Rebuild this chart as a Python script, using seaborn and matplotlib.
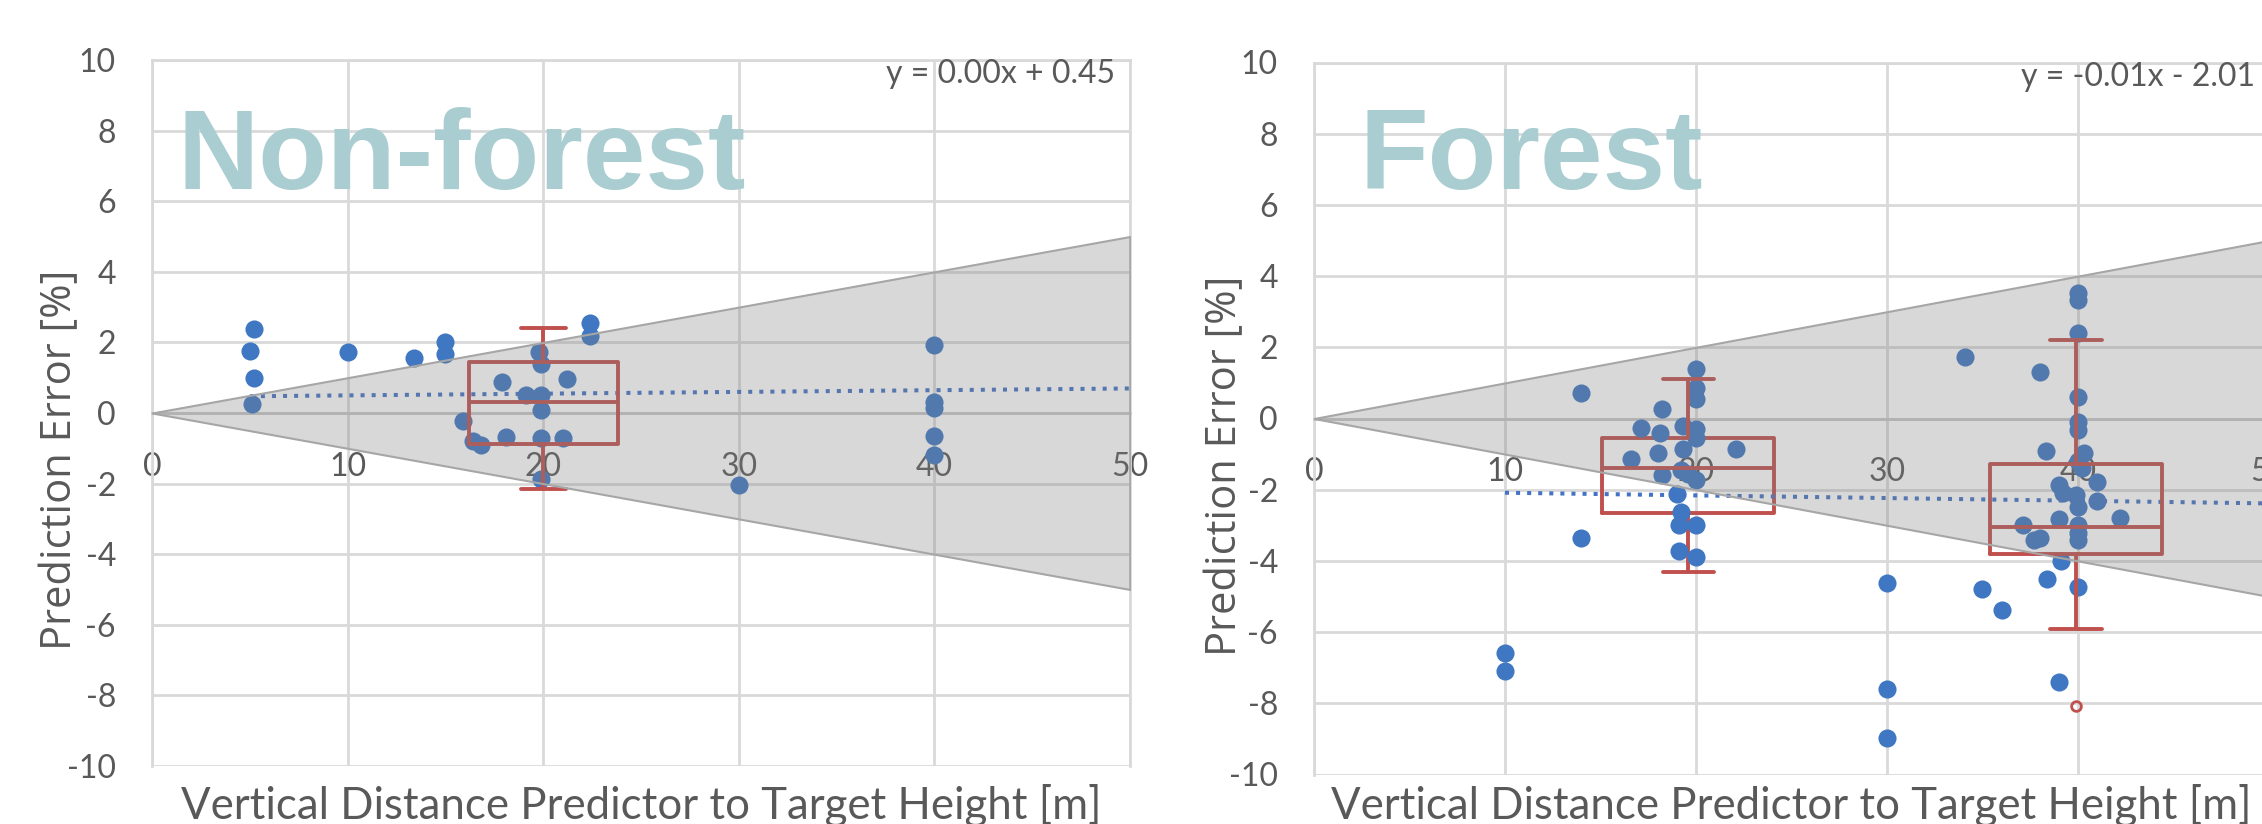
import numpy as np
import matplotlib
matplotlib.use("Agg")
import matplotlib.pyplot as plt
import seaborn as sns

# ---------------- data ----------------
# Non-forest: vertical distance predictor -> target [m], prediction error [%]
nonforest_dist = [5.0, 5.2, 5.2, 5.1, 10.0, 13.4, 15.0, 15.0, 22.4, 22.4,
                  19.8, 19.9, 17.9, 21.2, 19.1, 19.9, 19.9, 15.9, 16.4, 16.8,
                  18.1, 19.9, 21.0, 19.9, 30.0, 40.0, 40.0, 40.0, 40.0, 40.0]
nonforest_err = [1.77, 2.38, 1.00, 0.25, 1.72, 1.55, 2.00, 1.67, 2.55, 2.18,
                 1.72, 1.40, 0.88, 0.95, 0.52, 0.52, 0.08, -0.22, -0.78, -0.92,
                 -0.68, -0.70, -0.70, -1.88, -2.05, 1.92, 0.30, 0.15, -0.64, -1.18]

# Forest
forest_dist = [10.0, 10.0, 14.0, 14.0,
               20.0, 20.0, 20.0, 18.2, 17.1, 18.1, 19.3, 20.0, 20.0, 16.6,
               18.0, 19.3, 22.1, 18.2, 19.2, 19.6, 20.0, 19.0, 19.2, 19.1,
               20.0, 19.1, 20.0,
               30.0, 30.0, 30.0,
               34.1, 38.0, 40.0, 40.0, 40.0, 40.0, 40.0, 40.0, 38.3, 40.3,
               40.0, 40.2, 41.0, 39.0, 39.2, 39.9, 41.0, 40.0, 37.1, 39.0,
               42.2, 40.0, 40.0, 38.0, 37.7, 40.0, 39.1, 38.4, 35.0, 36.0,
               40.0, 39.0]
forest_err = [-6.58, -7.08, 0.71, -3.37,
              1.38, 0.85, 0.55, 0.27, -0.28, -0.40, -0.20, -0.30, -0.55, -1.13,
              -0.97, -0.87, -0.87, -1.58, -1.45, -1.55, -1.72, -2.12, -2.63, -3.00,
              -3.00, -3.72, -3.88,
              -4.63, -7.60, -8.98,
              1.74, 1.32, 3.52, 3.33, 2.41, 0.61, -0.09, -0.32, -0.90, -0.98,
              -1.20, -1.40, -1.77, -1.87, -2.10, -2.15, -2.31, -2.48, -2.99, -2.83,
              -2.80, -2.99, -3.22, -3.37, -3.41, -3.41, -3.99, -4.52, -4.80, -5.38,
              -4.74, -7.41]

# Box summaries per distance group
nonforest_box_pos = [20.0]
nonforest_box_low = [-2.16]
nonforest_box_q1 = [-0.88]
nonforest_box_med = [0.30]
nonforest_box_q3 = [1.44]
nonforest_box_high = [2.42]
nonforest_box_fliers = [[]]

forest_box_pos = [19.6, 39.9]
forest_box_low = [-4.30, -5.92]
forest_box_q1 = [-2.65, -3.81]
forest_box_med = [-1.40, -3.04]
forest_box_q3 = [-0.56, -1.29]
forest_box_high = [1.10, 2.20]
forest_box_fliers = [[], [-8.08]]

# Linear trend (slope, intercept)
nonforest_trend = [0.0049, 0.45]
forest_trend = [-0.0075, -2.01]

# Tolerance band: +/- percent of the vertical distance
band_pct = 10

x_ticks = [0, 10, 20, 30, 40, 50]
y_ticks = list(range(-10, 11, 2))

# ---------------- style ----------------
sns.set_theme(style="white")
plt.rcParams["font.family"] = ["Lato", "DejaVu Sans"]
plt.rcParams["axes.unicode_minus"] = False

BLUE = "#3f77c2"
RED = "#c0504d"
GRID = "#d9d9d9"
TXT = "#595959"
TITLE = "#a9cdd0"

fig = plt.figure(figsize=(22.62, 8.24), dpi=100)
W, H = 2262.0, 824.0


def px_axes(x0, x1, ytop, ybot):
    return fig.add_axes([x0 / W, 1 - ybot / H, (x1 - x0) / W, (ybot - ytop) / H])


ax_nf = px_axes(152, 1130, 60, 766)
ax_f = px_axes(1314, 2269, 62.5, 774.5)


def box_stats(pos, low, q1, med, q3, high, fliers):
    return [dict(whislo=a, q1=b, med=c, q3=d, whishi=e, fliers=f)
            for a, b, c, d, e, f in zip(low, q1, med, q3, high, fliers)], pos


def draw_panel(ax, dist, err, boxes, box_width, cap_width, trend, name, name_pos):
    ax.set_xlim(x_ticks[0], x_ticks[-1])
    ax.set_ylim(y_ticks[0], y_ticks[-1])
    ax.set_xticks(x_ticks)
    ax.set_yticks(y_ticks)
    ax.grid(True, color=GRID, lw=2.0, zorder=0)
    ax.set_axisbelow(True)
    for side in ("top", "right", "left"):
        ax.spines[side].set_color(GRID)
        ax.spines[side].set_linewidth(2.0)
    ax.spines["bottom"].set_position(("data", 0))
    ax.spines["bottom"].set_color("#c8c8c8")
    ax.spines["bottom"].set_linewidth(2.0)
    ax.tick_params(axis="both", length=0, labelsize=23, labelcolor=TXT)
    ax.tick_params(axis="x", pad=28)
    ax.tick_params(axis="y", pad=26)

    # samples
    sns.scatterplot(x=dist, y=err, ax=ax, s=170, color=BLUE, linewidth=0,
                    zorder=3, legend=False)

    # box summaries
    stats, pos = boxes
    ax.bxp(stats, positions=pos, widths=box_width, capwidths=cap_width,
           showfliers=True, manage_ticks=False,
           boxprops=dict(color=RED, lw=2.8),
           whiskerprops=dict(color=RED, lw=2.8),
           capprops=dict(color=RED, lw=2.8),
           medianprops=dict(color=RED, lw=2.8),
           flierprops=dict(marker="o", markerfacecolor="none",
                           markeredgecolor=RED, markersize=7, markeredgewidth=2))
    for art in ax.lines[-12:]:
        art.set_zorder(4)

    # trend line from the smallest distance to the axis end
    slope, icpt = trend
    tx = np.array([min(dist), x_ticks[-1]])
    sns.lineplot(x=tx, y=slope * tx + icpt, ax=ax, color="#4472c4", lw=2.9,
                 linestyle=(0, (1, 1.75)), zorder=3.5, legend=False)
    sign = "+" if icpt >= 0 else "-"
    ax.text(49.25, 9.6, f"y = {slope:.2f}x {sign} {abs(icpt):.2f}", fontsize=23,
            color=TXT, ha="right", va="center", zorder=6)

    # tolerance cone drawn over everything inside the plot
    bx = np.array([0.0, x_ticks[-1]])
    ax.fill_between(bx, -bx * band_pct / 100, bx * band_pct / 100,
                    facecolor=(0.5, 0.5, 0.5, 0.3), edgecolor="#a6a6a6",
                    lw=1.5, zorder=5)

    ax.set_xlabel("")
    ax.set_ylabel("")
    ax.text(name_pos[0], name_pos[1], name, fontsize=81, fontweight="bold",
            family="Liberation Sans", color=TITLE, ha="left", va="baseline",
            zorder=6)


draw_panel(ax_nf, nonforest_dist, nonforest_err,
           box_stats(nonforest_box_pos, nonforest_box_low, nonforest_box_q1,
                     nonforest_box_med, nonforest_box_q3, nonforest_box_high,
                     nonforest_box_fliers),
           7.6, 2.3, nonforest_trend, "Non-forest", (1.3, 6.35))
draw_panel(ax_f, forest_dist, forest_err,
           box_stats(forest_box_pos, forest_box_low, forest_box_q1,
                     forest_box_med, forest_box_q3, forest_box_high,
                     forest_box_fliers),
           9.0, 2.7, forest_trend, "Forest", (2.4, 6.45))

# axis titles
for cx in (641 / W, 1791 / W):
    fig.text(cx, 1 - 819 / H, "Vertical Distance Predictor to Target Height [m]",
             fontsize=31.5, color=TXT, ha="center", va="baseline")
for lx, ly in ((60 / W, 1 - 460 / H), (1225 / W, 1 - 466 / H)):
    fig.text(lx, ly, "Prediction Error [%]", fontsize=30, color=TXT,
             family=["Open Sans", "DejaVu Sans"], rotation=90,
             ha="center", va="center")

fig.savefig("out.png", dpi=100)
